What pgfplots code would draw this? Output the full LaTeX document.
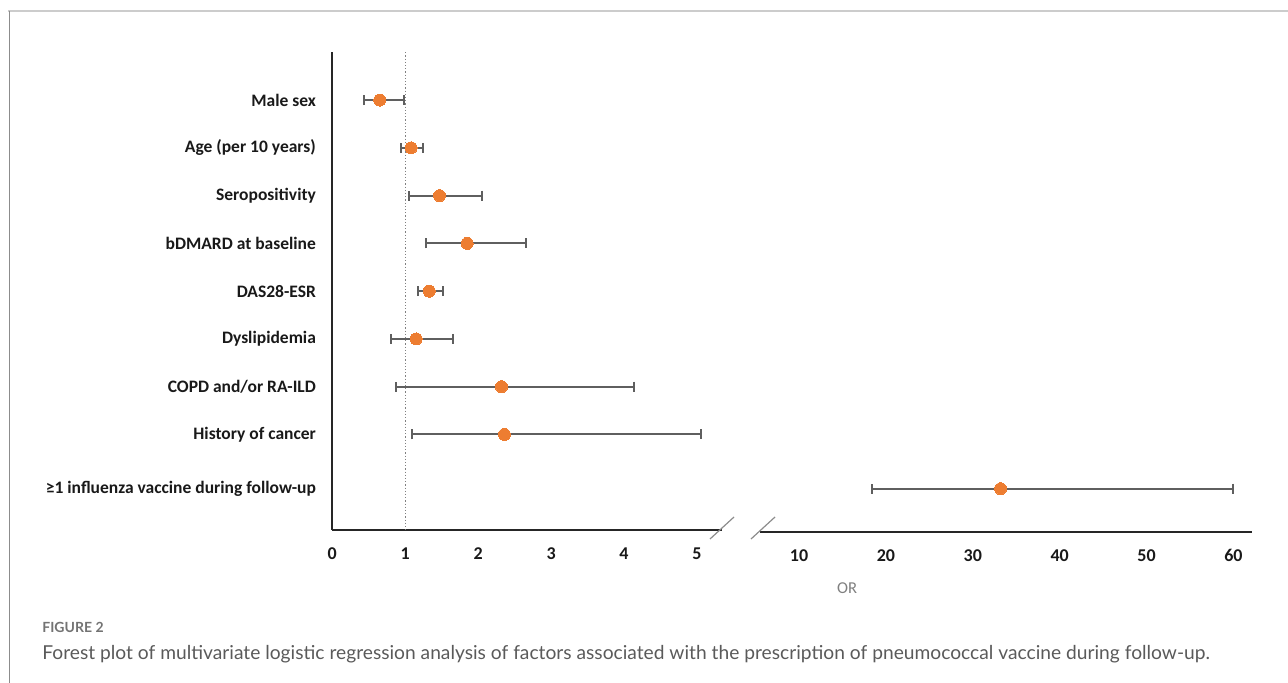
\documentclass[border=0pt]{standalone}
\usepackage{pgfplots}
\pgfplotsset{compat=1.18}
\usepackage{pgfplotstable}
\usepackage{fontspec}
\setmainfont{Carlito}
\newfontfamily\capfont{Lato}
\definecolor{dotc}{HTML}{ED7D31}
\definecolor{barc}{HTML}{5F5F5F}
\definecolor{capc}{HTML}{5A5A5A}

\pgfplotstableread{
row or lo hi
1 0.65 0.44 0.99
2 1.08 0.94 1.24
3 1.47 1.05 2.05
4 1.85 1.29 2.65
5 1.33 1.17 1.52
6 1.15 0.80 1.65
7 2.32 0.87 4.14
8 2.36 1.09 5.06
}\leftdata
\pgfplotstableread{
row or lo hi
9.135 33.2 18.4 59.9
}\rightdata

\pgfplotsset{
  forest/.style={
    scale only axis, clip=false,
    ymin=0, y dir=reverse,
    axis x line=bottom,
    /pgf/number format/assume math mode=true,
    major tick length=0pt,
    xticklabel style={font=\bfseries\fontsize{9}{9}\selectfont, text=black!90, inner sep=0pt, yshift=-8.5pt},
  },
  fixlines/.style={
    axis line style={line width=1pt, color=black!85},
    x axis line style={-}, y axis line style={-},
    every outer x axis line/.append style={-},
    every outer y axis line/.append style={-},
  },
  errplot/.style={draw=none, mark=none, forget plot,
    error bars/.cd, x dir=both, x explicit, error mark=|,
    error bar style={draw=barc, line width=1pt},
    error mark options={draw=barc, line width=1pt, mark size=2.5pt, rotate=0}},
  dotplot/.style={only marks, color=dotc, mark=*, mark size=3pt, mark options={fill=dotc, draw=dotc, line width=0pt}},
}

\begin{document}
\begin{tikzpicture}[x=0.5pt,y=0.5pt]
\path[use as bounding box] (0,0) rectangle (1288,683);
\draw[color=black!20, line width=1pt] (8,672) -- (1288,672);
\draw[color=black!45, line width=0.5pt] (9,672) -- (9,0);

\begin{axis}[forest,
  at={(166.15pt,76.5pt)}, anchor=south west,
  width=194.7pt, height=238.85pt,
  xmin=0, xmax=5.34, ymax=10,
  axis y line=left,
  fixlines,
  xtick={0,1,2,3,4,5},
  ytick={1,2,3,4,5,6,7,8,9.135},
  yticklabels={Male sex, Age (per 10 years), Seropositivity, bDMARD at baseline, DAS28-ESR, Dyslipidemia, COPD and/or RA-ILD, History of cancer, ≥1 influenza vaccine during follow-up},
  yticklabel style={font=\bfseries\fontsize{8.75}{8.75}\selectfont, text=black!90, inner sep=0pt, xshift=-8pt},
]
\draw[densely dotted, color=black!50, line width=0.6pt] (axis cs:1,0) -- (axis cs:1,10);
\addplot[errplot] table[x=or, y=row,
  x error plus expr=\thisrow{hi}-\thisrow{or},
  x error minus expr=\thisrow{or}-\thisrow{lo}] {\leftdata};
\addplot[dotplot] table[x=or, y=row] {\leftdata};
\end{axis}

\begin{axis}[forest,
  at={(380pt,75.5pt)}, anchor=south west,
  width=245.85pt, height=239.85pt,
  xmin=5.51, xmax=62.1, ymax=10.042,
  axis y line=none,
  fixlines,
  xtick={10,20,30,40,50,60},
]
\addplot[errplot] table[x=or, y=row,
  x error plus expr=\thisrow{hi}-\thisrow{or},
  x error minus expr=\thisrow{or}-\thisrow{lo}] {\rightdata};
\addplot[dotplot] table[x=or, y=row] {\rightdata};
\end{axis}

\draw[color=black!45, line width=0.6pt] (710,144) -- (734,166);
\draw[color=black!45, line width=0.6pt] (751,144) -- (775,166);

\node[font=\fontsize{8.3}{8.3}\selectfont, text=black!50] at (847,95) {OR};
\node[anchor=base west, inner sep=0pt, font=\capfont\bfseries\fontsize{7}{7}\selectfont, text=black!55] at (42,50) {FIGURE 2};
\node[anchor=base west, inner sep=0pt, font=\capfont\fontsize{9.6}{9.6}\selectfont, text=capc] at (42,23.7) {Forest plot of multivariate logistic regression analysis of factors associated with the prescription of pneumococcal vaccine during follow-up.};
\end{tikzpicture}
\end{document}
